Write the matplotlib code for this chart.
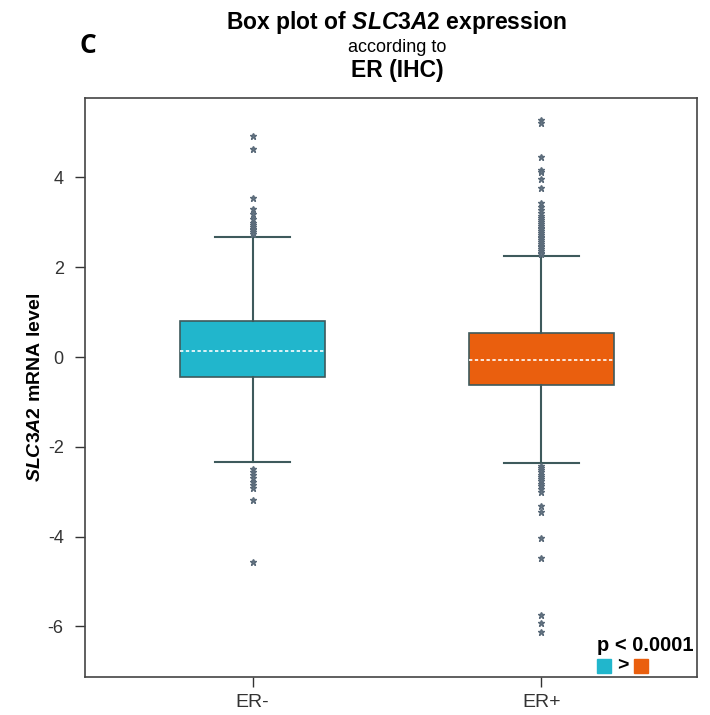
import matplotlib
matplotlib.use("Agg")
import matplotlib.pyplot as plt
from matplotlib.patches import Rectangle

plt.rcParams["font.family"] = ["Liberation Sans", "DejaVu Sans"]
plt.rcParams["axes.unicode_minus"] = False
plt.rcParams["mathtext.fontset"] = "custom"
plt.rcParams["mathtext.it"] = "Liberation Sans:italic:bold"
plt.rcParams["mathtext.rm"] = "Liberation Sans:bold"

GROUPS = ["ER-", "ER+"]
BOX_COLORS = ["#21b6cc", "#ea5f0e"]

# five-number summaries per group
Q1 = [-0.44, -0.62]
MEDIANS = [0.14, -0.07]
Q3 = [0.80, 0.53]
WHISK_LO = [-2.33, -2.36]
WHISK_HI = [2.67, 2.25]

FLIERS_ER_NEG = [4.92, 4.63, 3.54, 3.30, 3.18, 3.07, 2.98, 2.94, 2.90, 2.86,
                 2.82, 2.78, 2.74, -2.50, -2.56, -2.63, -2.70, -2.78, -2.85,
                 -2.92, -3.18, -4.57]
FLIERS_ER_POS = [5.28, 5.21, 4.45, 4.16, 4.12, 3.96, 3.76, 3.43, 3.34, 3.27,
                 3.20, 3.15, 3.10, 3.05, 3.00, 2.96, 2.92, 2.88, 2.84, 2.80,
                 2.76, 2.72, 2.68, 2.64, 2.60, 2.56, 2.52, 2.48, 2.44, 2.40,
                 2.36, 2.32, 2.29, -2.42, -2.47, -2.52, -2.57, -2.62, -2.67,
                 -2.72, -2.77, -2.82, -2.88, -2.94, -3.00, -3.32, -3.45, -4.03,
                 -4.48, -5.75, -5.92, -6.12]
FLIERS = [FLIERS_ER_NEG, FLIERS_ER_POS]

EDGE = "#3e5a5c"

fig = plt.figure(figsize=(7.1, 7.15), dpi=100)
ax = fig.add_axes([0.12, 0.053, 0.862, 0.81])

stats = []
for i, name in enumerate(GROUPS):
    stats.append({
        "label": name,
        "q1": Q1[i], "med": MEDIANS[i], "q3": Q3[i],
        "whislo": WHISK_LO[i], "whishi": WHISK_HI[i],
        "fliers": FLIERS[i],
    })

bp = ax.bxp(
    stats,
    positions=[1, 2],
    widths=0.5,
    patch_artist=True,
    boxprops=dict(edgecolor=EDGE, linewidth=1.2),
    whiskerprops=dict(color=EDGE, linewidth=1.5),
    capprops=dict(color=EDGE, linewidth=1.5),
    capwidths=0.26,
    medianprops=dict(color="white", linestyle=(0, (2, 1.5)), linewidth=1.2),
    flierprops=dict(marker="*", markersize=5, markerfacecolor="#6a7a88",
                    markeredgecolor="#5b6b7a", linestyle="none"),
)
for patch, c in zip(bp["boxes"], BOX_COLORS):
    patch.set_facecolor(c)

ax.set_xlim(0.42, 2.54)
ax.set_ylim(-7.13, 5.77)
ax.set_yticks([4, 2, 0, -2, -4, -6])
ax.tick_params(axis="both", direction="out", length=7.5, width=1,
               color="#333333", labelcolor="#333333")
ax.tick_params(axis="y", pad=8, labelsize=13)
ax.tick_params(axis="x", pad=5, labelsize=14)
for s in ax.spines.values():
    s.set_color("#444444")
    s.set_linewidth(1.2)

ax.set_ylabel(r"$\it{SLC3A2}$ mRNA level", fontsize=14, fontweight="bold",
              labelpad=3)

# titles
fig.text(0.559, 0.969, r"Box plot of $\it{SLC3A2}$ expression", ha="center",
         va="center", fontsize=16.5, fontweight="bold")
fig.text(0.559, 0.934, "according to", ha="center", va="center", fontsize=13)
fig.text(0.559, 0.901, "ER (IHC)", ha="center", va="center", fontsize=16.5,
         fontweight="bold")
fig.text(0.124, 0.937, "C", ha="center", va="center", fontsize=19,
         fontweight="bold", family=["Open Sans", "DejaVu Sans"])

# significance note
fig.text(0.909, 0.097, "p < 0.0001", ha="center", va="center", fontsize=14.5,
         fontweight="bold")
fig.patches.append(Rectangle((0.841, 0.059), 0.020, 0.020, color=BOX_COLORS[0],
                             transform=fig.transFigure, figure=fig))
fig.text(0.877, 0.069, ">", ha="center", va="center", fontsize=14,
         fontweight="bold")
fig.patches.append(Rectangle((0.893, 0.059), 0.020, 0.020, color=BOX_COLORS[1],
                             transform=fig.transFigure, figure=fig))

fig.savefig("out.png", dpi=100)
